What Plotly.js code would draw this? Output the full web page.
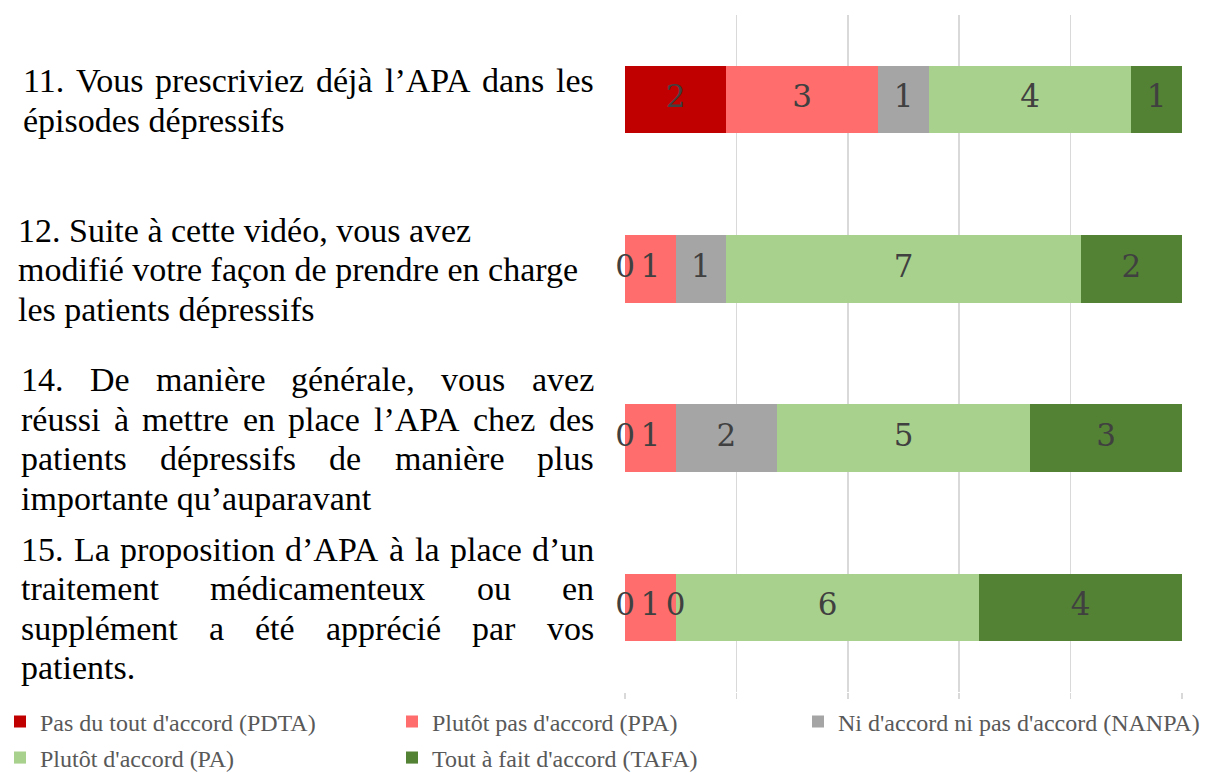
<!DOCTYPE html>
<html>
<head>
<meta charset="utf-8">
<script src="https://cdn.plot.ly/plotly-3.0.1.min.js"></script>
<style>html,body{margin:0;padding:0;background:#fff;}#chart{width:1210px;height:773px;}</style>
</head>
<body>
<div id="chart"></div>
<script>
// ---- data ----
const categories = ["q11", "q12", "q14", "q15"];
const seriesNames = [
  "Pas du tout d'accord (PDTA)",
  "Plutôt pas d'accord (PPA)",
  "Ni d'accord ni pas d'accord (NANPA)",
  "Plutôt d'accord (PA)",
  "Tout à fait d'accord (TAFA)"
];
const pdta  = [2, 0, 0, 0];
const ppa   = [3, 1, 1, 1];
const nanpa = [1, 1, 2, 0];
const pa    = [4, 7, 5, 6];
const tafa  = [1, 2, 3, 4];
const seriesColors = ["#C00000", "#FF6D6D", "#A5A5A5", "#A9D18E", "#548235"];

const labelLines = [
  ["11. Vous prescriviez déjà l’APA dans les", "épisodes dépressifs"],
  ["12. Suite à cette vidéo, vous avez", "modifié votre façon de prendre en charge", "les patients dépressifs"],
  ["14. De manière générale, vous avez", "réussi à mettre en place l’APA chez des", "patients dépressifs de manière plus", "importante qu’auparavant"],
  ["15. La proposition d’APA à la place d’un", "traitement médicamenteux ou en", "supplément a été apprécié par vos", "patients."]
];
const labelJustified = [true, false, true, true];
const labelLeft = [22, 17, 20, 20];

// ---- layout constants ----
const W = 1210, H = 773;
const M = {l: 625, r: 28, t: 15, b: 81};
const labelRight = 593;
const labelFont = "Liberation Serif";
const labelSize = 34;
const lineGap = 39.5;
// legend entry positions (pixels: legend box left, text centre line)
const legendPos = [[-13, 722], [392, 722], [798, 722], [-13, 758], [392, 758]];

const series = [pdta, ppa, nanpa, pa, tafa];
const legendIds = series.map((_, i) => i === 0 ? "legend" : "legend" + (i + 1));
const traces = series.map((vals, i) => ({
  type: "bar",
  orientation: "h",
  name: seriesNames[i],
  legend: legendIds[i],
  x: vals,
  y: categories,
  marker: {color: seriesColors[i], line: {width: 0}},
  hoverinfo: "skip"
}));

// data labels (centered in each segment, zero values at the boundary)
const lx = [], ly = [], lt = [];
categories.forEach((c, ci) => {
  let cum = 0;
  series.forEach(vals => {
    const v = vals[ci];
    lx.push(cum + v / 2); ly.push(c); lt.push(String(v));
    cum += v;
  });
});
traces.push({
  type: "scatter", mode: "text", x: lx, y: ly, text: lt,
  textposition: "middle center",
  textfont: {family: "DejaVu Serif", size: 31, color: "#404040"},
  showlegend: false, hoverinfo: "skip", cliponaxis: false
});

// category labels as annotations (justified by measuring words)
const canvas = document.createElement("canvas");
const ctx = canvas.getContext("2d");
ctx.font = labelSize + "px '" + labelFont + "'";
const annotations = [];
labelLines.forEach((lines, ci) => {
  const n = lines.length;
  lines.forEach((line, li) => {
    const yshift = -((li - (n - 1) / 2) * lineGap + 1);
    const x0 = labelLeft[ci];
    const justify = labelJustified[ci] && li < n - 1;
    const base = {
      xref: "paper", yref: "y", x: 0, y: categories[ci],
      xanchor: "left", yanchor: "middle", showarrow: false,
      yshift: yshift, borderpad: 0,
      font: {family: labelFont, size: labelSize, color: "#000000"}
    };
    if (!justify) {
      annotations.push(Object.assign({}, base, {text: line, xshift: x0 - M.l}));
    } else {
      const words = line.split(" ");
      const widths = words.map(w => ctx.measureText(w).width);
      const total = widths.reduce((a, b) => a + b, 0);
      const gap = (labelRight - x0 - total) / (words.length - 1);
      let px = x0;
      words.forEach((w, wi) => {
        annotations.push(Object.assign({}, base, {text: w, xshift: px - M.l}));
        px += widths[wi] + gap;
      });
    }
  });
});

const layout = {
  width: W, height: H,
  margin: M,
  paper_bgcolor: "#ffffff", plot_bgcolor: "#ffffff",
  barmode: "stack",
  bargap: 0.6,
  showlegend: true,
  xaxis: {
    range: [0, 11], tick0: 0, dtick: 2.2,
    showgrid: true, gridcolor: "#d9d9d9", gridwidth: 1.5,
    showticklabels: false, zeroline: false, showline: false,
    ticks: "outside", ticklen: 6, tickcolor: "#d9d9d9", tickwidth: 1.5,
    fixedrange: true, automargin: false
  },
  yaxis: {
    categoryorder: "array", categoryarray: categories,
    autorange: "reversed",
    showgrid: false, showticklabels: false, zeroline: false, showline: false,
    fixedrange: true, automargin: false
  },
  annotations: annotations
};
legendIds.forEach((id, i) => {
  layout[id] = {
    orientation: "h",
    xref: "container", yref: "container",
    x: legendPos[i][0] / W, xanchor: "left",
    y: 1 - legendPos[i][1] / H, yanchor: "middle",
    font: {family: labelFont, size: 24, color: "#595959"},
    bgcolor: "rgba(0,0,0,0)", borderwidth: 0
  };
});

Plotly.newPlot("chart", traces, layout, {displayModeBar: false, staticPlot: true});
</script>
</body>
</html>
